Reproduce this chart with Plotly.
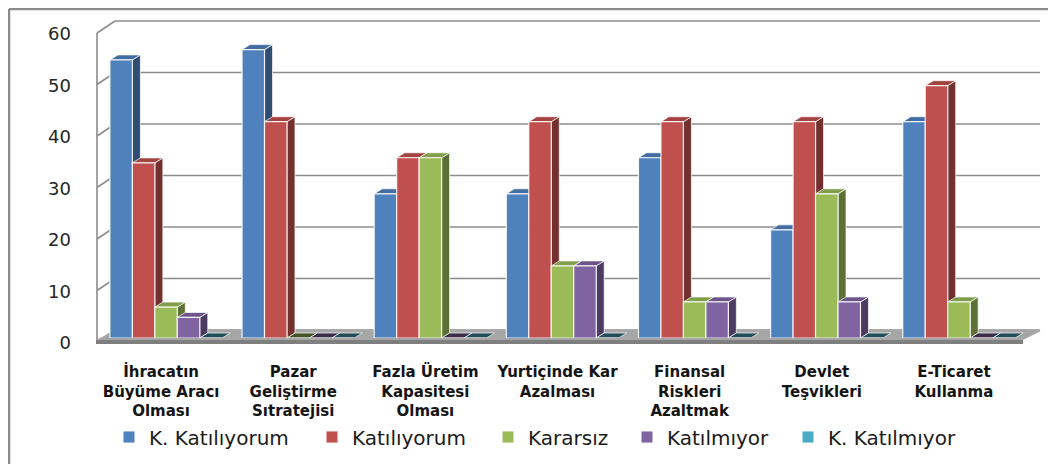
import plotly.graph_objects as go

W, H = 1056, 464

categories = [
    "İhracatın<br>Büyüme Aracı<br>Olması",
    "Pazar<br>Geliştirme<br>Sıtratejisi",
    "Fazla Üretim<br>Kapasitesi<br>Olması",
    "Yurtiçinde Kar<br>Azalması",
    "Finansal<br>Riskleri<br>Azaltmak",
    "Devlet<br>Teşvikleri",
    "E-Ticaret<br>Kullanma",
]
series_names = ["K. Katılıyorum", "Katılıyorum", "Kararsız", "Katılmıyor", "K. Katılmıyor"]
k_katiliyorum = [54, 56, 28, 28, 35, 21, 42]
katiliyorum = [34, 42, 35, 42, 42, 42, 49]
kararsiz = [6, 0, 35, 14, 7, 28, 7]
katilmiyor = [4, 0, 0, 14, 7, 7, 0]
k_katilmiyor = [0, 0, 0, 0, 0, 0, 0]
series_values = [k_katiliyorum, katiliyorum, kararsiz, katilmiyor, k_katilmiyor]
y_ticks = [0, 10, 20, 30, 40, 50, 60]

colors = ["#4f81bd", "#c0504d", "#9bbb59", "#8064a2", "#4bacc6"]

# page body margin offset (screen px = figure px + OFF)
OFF = 8
# layout geometry in screen pixels
X_L, X_R = 100, 1025
Y_B, Y_T = 338, 29
Y_MAX = 60
N = len(categories)
DEPTH_X, DEPTH_Y = 8, 5
WALL_X, WALL_Y = 18, 8
legend_text_x = [147, 350, 526, 665, 826]
LEGEND_Y = 437

ux = (X_R - X_L) / N
uy = (Y_B - Y_T) / Y_MAX


def shade(hexc, f):
    r, g, b = int(hexc[1:3], 16), int(hexc[3:5], 16), int(hexc[5:7], 16)
    return "#%02x%02x%02x" % (int(r * f), int(g * f), int(b * f))


def px(xs):
    return (xs - OFF) / W


def py(ys):
    return 1 - (ys - OFF) / H


def vy(v):
    return Y_B - v * uy


fig = go.Figure()
bw = 0.17
nser = len(series_values)
legend_names = ["legend", "legend2", "legend3", "legend4", "legend5"]
for k, (name, vals) in enumerate(zip(series_names, series_values)):
    fig.add_trace(go.Bar(
        x=list(range(N)), y=vals, name=name, legend=legend_names[k],
        width=bw, offset=-nser * bw / 2 + k * bw,
        marker=dict(color=colors[k], line=dict(color="rgba(255,255,255,0.85)", width=1.2)),
    ))

shapes = []
grid_c = "#8c8c8c"
for v in y_ticks:
    y = vy(v) - WALL_Y
    shapes.append(dict(type="line", xref="paper", yref="paper",
                       x0=px(X_L - 3 + WALL_X), x1=px(1040), y0=py(y), y1=py(y),
                       line=dict(color=grid_c, width=1.6), layer="below"))
    shapes.append(dict(type="line", xref="paper", yref="paper",
                       x0=px(X_L - 3), x1=px(X_L - 3 + WALL_X), y0=py(vy(v) + 4), y1=py(vy(v) - WALL_Y),
                       line=dict(color=grid_c, width=1.6), layer="below"))
shapes.append(dict(type="line", xref="paper", yref="paper",
                   x0=px(X_L - 3), x1=px(X_L - 3), y0=py(vy(0) + 4), y1=py(vy(Y_MAX) + 4),
                   line=dict(color=grid_c, width=1.6), layer="below"))
# floor
fy_back = vy(0) - WALL_Y + 1
fy_front = vy(0) + 2
shapes.append(dict(type="path", xref="paper", yref="paper",
                   path="M %f,%f L %f,%f L %f,%f L %f,%f Z" % (
                       px(X_L - 4), py(fy_front), px(X_L - 4 + WALL_X), py(fy_back),
                       px(1041), py(fy_back), px(1041 - WALL_X), py(fy_front)),
                   fillcolor="#a6a6a6", line=dict(width=0), layer="below"))
shapes.append(dict(type="path", xref="paper", yref="paper",
                   path="M %f,%f L %f,%f L %f,%f L %f,%f Z" % (
                       px(X_L - 4), py(fy_front), px(1041 - WALL_X), py(fy_front),
                       px(1041 - WALL_X), py(fy_front + 4), px(X_L - 4), py(fy_front + 4)),
                   fillcolor="#7f7f7f", line=dict(width=0), layer="below"))

# 3D faces of bars, in data coordinates
dx = DEPTH_X / ux
dy = DEPTH_Y / uy
for i in range(N):
    for k, vals in enumerate(series_values):
        v = vals[i]
        xl = i - nser * bw / 2 + k * bw
        xr = xl + bw
        if v > 0:
            shapes.append(dict(type="path", xref="x", yref="y",
                               path="M %f,%f L %f,%f L %f,%f L %f,%f Z" % (
                                   xr, 0, xr + dx, dy, xr + dx, v + dy, xr, v),
                               fillcolor=shade(colors[k], 0.6),
                               line=dict(color="rgba(255,255,255,0.7)", width=1), layer="below"))
        f = 0.85 if v > 0 else 0.45
        shapes.append(dict(type="path", xref="x", yref="y",
                           path="M %f,%f L %f,%f L %f,%f L %f,%f Z" % (
                               xl, v, xr, v, xr + dx, v + dy, xl + dx, v + dy),
                           fillcolor=shade(colors[k], f),
                           line=dict(color="rgba(255,255,255,0.7)", width=1), layer="below"))

# outer border (left and top)
shapes.append(dict(type="line", xref="paper", yref="paper", x0=px(9), x1=px(9), y0=0, y1=py(9),
                   line=dict(color=grid_c, width=2.5)))
shapes.append(dict(type="line", xref="paper", yref="paper", x0=px(9), x1=1, y0=py(9), y1=py(9),
                   line=dict(color=grid_c, width=2.5)))

legend_font = dict(family="DejaVu Sans", size=20, color="#1a1a1a")
legends = {}
for k, ln in enumerate(legend_names):
    legends[ln] = dict(orientation="h", x=px(legend_text_x[k] - 38), y=py(LEGEND_Y),
                       xanchor="left", yanchor="middle", font=legend_font,
                       bgcolor="rgba(0,0,0,0)", itemwidth=30)

fig.update_layout(
    width=W, height=H,
    margin=dict(l=0, r=0, t=0, b=0),
    paper_bgcolor="white", plot_bgcolor="rgba(0,0,0,0)",
    barmode="overlay",
    showlegend=True,
    xaxis=dict(domain=[px(X_L), px(X_R)], range=[-0.5, N - 0.5],
               tickvals=list(range(N)), ticktext=categories,
               showgrid=False, zeroline=False, showline=False, ticks="",
               tickfont=dict(family="DejaVu Sans", size=15, color="#141414", weight="bold"),
               ticklabelstandoff=23, ticklabelshift=-5, fixedrange=True, automargin=False),
    yaxis=dict(domain=[py(Y_B), py(Y_T)], range=[0, Y_MAX],
               tickvals=y_ticks, showgrid=False, zeroline=False, showline=False, ticks="",
               tickfont=dict(family="DejaVu Sans", size=18, color="#262626"),
               ticklabelstandoff=28, ticklabelshift=5, fixedrange=True, automargin=False),
    shapes=shapes,
    **legends,
)

fig.write_html("out.html")
